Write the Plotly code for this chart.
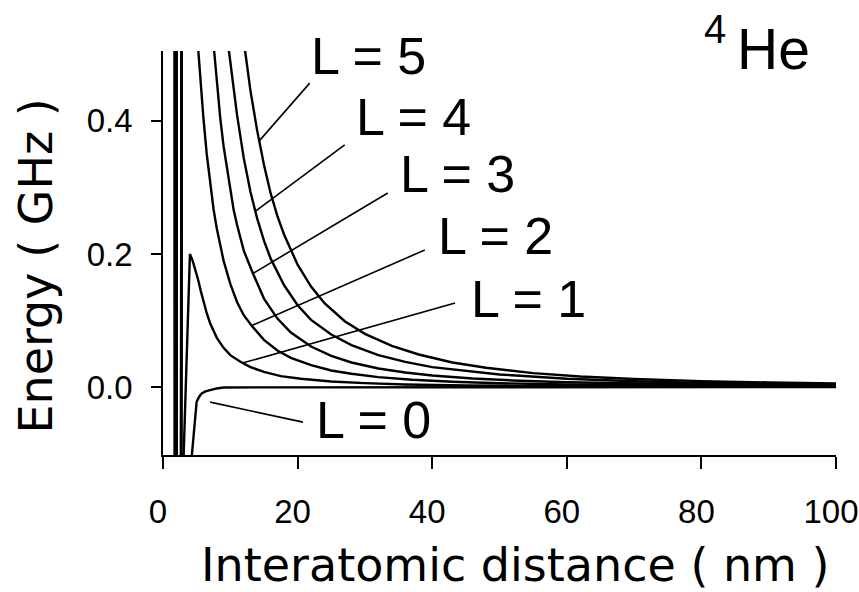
import plotly.graph_objects as go

# ---------------- data ----------------
# Effective potentials V_L(r) for 4He2 (energy in GHz, distance in nm)
L0_r = [1.70, 1.72, 4.22, 4.86, 5.00, 5.40, 5.75, 6.30, 7.00, 8.00, 9.00, 100.0]
L0_E = [0.60, -0.20, -0.11, -0.035, -0.022, -0.014, -0.0095, -0.0065, -0.0045, -0.002, -0.0005, 0.0]

L1_r = [1.85, 1.88, 2.98, 4.00, 4.40, 4.80, 5.20, 5.60, 6.00, 6.50, 7.00, 8.00, 9.00, 10.0,
        11.5, 13.0, 15.0, 17.5, 20.5, 25.0, 30.0, 36.0, 45.0, 60.0, 80.0, 100.0]
L1_E = [0.60, -0.20, -0.13, 0.200, 0.190, 0.177, 0.162, 0.145, 0.128, 0.111, 0.096, 0.074, 0.059, 0.048,
        0.038, 0.030, 0.023, 0.0165, 0.0125, 0.0085, 0.006, 0.004, 0.0025, 0.0014, 0.0008, 0.0005]

L2_r = [1.95, 1.98, 2.65, 2.75, 5.25, 5.50, 6.00, 6.50, 7.00, 7.50, 8.00, 9.00, 10.0, 11.0, 12.0,
        13.2, 15.0, 17.0, 19.0, 22.0, 25.0, 28.0, 32.0, 37.0, 43.0, 50.0, 60.0, 70.0, 85.0, 100.0]
L2_E = [0.60, -0.20, -0.20, 0.60, 0.505, 0.470, 0.405, 0.350, 0.305, 0.268, 0.238, 0.190, 0.155, 0.128, 0.108,
        0.092, 0.071, 0.055, 0.044, 0.033, 0.025, 0.020, 0.015, 0.011, 0.008, 0.0058, 0.004, 0.003, 0.002, 0.0015]

L3_r = [1.97, 2.00, 2.67, 2.77, 7.60, 8.00, 8.50, 9.00, 10.0, 10.5, 11.0, 12.0, 13.4, 15.0, 17.0,
        19.0, 22.0, 25.0, 28.0, 32.0, 36.0, 40.0, 46.0, 52.0, 60.0, 70.0, 80.0, 90.0, 100.0]
L3_E = [0.60, -0.20, -0.20, 0.60, 0.505, 0.455, 0.405, 0.362, 0.293, 0.266, 0.244, 0.205, 0.170, 0.133, 0.103,
        0.082, 0.061, 0.047, 0.037, 0.028, 0.022, 0.0175, 0.013, 0.010, 0.0074, 0.0053, 0.0040, 0.0031, 0.0025]

L4_r = [1.99, 2.02, 2.69, 2.79, 9.80, 10.5, 11.0, 12.0, 13.0, 14.0, 15.0, 16.0, 18.0, 20.0, 22.0,
        25.0, 28.0, 32.0, 36.0, 40.0, 45.0, 50.0, 60.0, 70.0, 80.0, 90.0, 100.0]
L4_E = [0.60, -0.20, -0.20, 0.60, 0.505, 0.449, 0.409, 0.344, 0.293, 0.253, 0.220, 0.193, 0.153, 0.123, 0.101,
        0.079, 0.063, 0.048, 0.038, 0.030, 0.024, 0.019, 0.0125, 0.0088, 0.0064, 0.0050, 0.0040]

L5_r = [2.01, 2.04, 2.71, 2.81, 12.2, 13.0, 14.0, 15.0, 16.0, 17.0, 18.0, 20.0, 22.0, 24.0, 27.0,
        30.0, 34.0, 38.0, 43.0, 48.0, 55.0, 62.0, 70.0, 80.0, 90.0, 100.0]
L5_E = [0.60, -0.20, -0.20, 0.60, 0.505, 0.445, 0.385, 0.334, 0.291, 0.257, 0.229, 0.184, 0.151, 0.126, 0.099,
        0.080, 0.062, 0.049, 0.037, 0.029, 0.021, 0.016, 0.0122, 0.0090, 0.0070, 0.0055]

curve_labels = ["L = 0", "L = 1", "L = 2", "L = 3", "L = 4", "L = 5"]
# leader lines: (label end x, y) -> (curve end x, y) in data units
leader_start = [(20.8, -0.0526), (43.4, 0.1263), (38.9, 0.206), (33.4, 0.2917), (27.0, 0.3639), (21.8, 0.4567)]
leader_end = [(7.0, -0.0226), (11.93, 0.0365), (13.18, 0.0925), (13.4, 0.171), (13.7, 0.264), (14.3, 0.37)]

x_ticks = [0, 20, 40, 60, 80, 100]
y_ticks = [0.0, 0.2, 0.4]

# ---------------- figure ----------------
W, H = 859, 592
L_M, R_M, T_M, B_M = 163, 23, 51, 137
PW, PH = W - L_M - R_M, H - T_M - B_M


def fx(px):
    return (px - L_M) / PW


def fy(py):
    return (H - B_M - py) / PH


fig = go.Figure()
for r, e in [(L0_r, L0_E), (L1_r, L1_E), (L2_r, L2_E), (L3_r, L3_E), (L4_r, L4_E), (L5_r, L5_E)]:
    fig.add_trace(go.Scatter(x=r, y=e, mode="lines", line=dict(color="black", width=2.4),
                             showlegend=False, hoverinfo="skip"))

for (x0, y0), (x1, y1) in zip(leader_start, leader_end):
    fig.add_shape(type="line", x0=x0, y0=y0, x1=x1, y1=y1, xref="x", yref="y",
                  line=dict(color="black", width=1.6))

label_font = dict(family="Liberation Sans, Arial, sans-serif", size=52, color="black")
label_pos = [(314, 420), (469, 298.5), (436, 236.5), (398, 174), (354, 116.5), (309, 56)]
for txt, (px, py) in zip(curve_labels, label_pos):
    fig.add_annotation(text=txt, x=fx(px), y=fy(py), xref="paper", yref="paper",
                       xanchor="left", yanchor="middle", showarrow=False, font=label_font)

# 4He
fig.add_annotation(text="He", x=fx(735), y=fy(48.5), xref="paper", yref="paper",
                   xanchor="left", yanchor="middle", showarrow=False,
                   font=dict(family="Liberation Sans, Arial, sans-serif", size=57, color="black"))
fig.add_annotation(text="4", x=fx(702), y=fy(29), xref="paper", yref="paper",
                   xanchor="left", yanchor="middle", showarrow=False,
                   font=dict(family="Liberation Sans, Arial, sans-serif", size=40, color="black"))

# axis titles
title_font = dict(family="DejaVu Sans, sans-serif", size=46, color="black")
fig.add_annotation(text="Interatomic distance ( nm )", x=fx(514.5), y=fy(565), xref="paper", yref="paper",
                   xanchor="center", yanchor="middle", showarrow=False, font=title_font)
fig.add_annotation(text="Energy ( GHz )", x=fx(35), y=fy(266.5), xref="paper", yref="paper",
                   xanchor="center", yanchor="middle", showarrow=False, textangle=-90, font=title_font)

tick_font = dict(family="Liberation Sans, Arial, sans-serif", size=33, color="black")
fig.update_xaxes(range=[0, 100], tickvals=x_ticks, ticktext=[str(v) for v in x_ticks],
                 showline=True, linecolor="black", linewidth=1.6, ticks="outside", ticklen=12,
                 tickwidth=1.6, tickcolor="black", showgrid=False, zeroline=False, automargin=False,
                 tickfont=tick_font, ticklabelstandoff=15, ticklabeloverflow="allow",
                 ticklabelshift=-5)
fig.update_yaxes(range=[-0.102, 0.505], tickvals=y_ticks, ticktext=[f"{v:.1f}" for v in y_ticks],
                 showline=True, linecolor="black", linewidth=1.6, ticks="outside", ticklen=10,
                 tickwidth=1.6, tickcolor="black", showgrid=False, zeroline=False, automargin=False,
                 tickfont=tick_font, ticklabelstandoff=12)

fig.update_layout(width=W, height=H, margin=dict(l=L_M, r=R_M, t=T_M, b=B_M, autoexpand=False),
                  paper_bgcolor="white", plot_bgcolor="white", showlegend=False)

fig.write_html("out.html")
